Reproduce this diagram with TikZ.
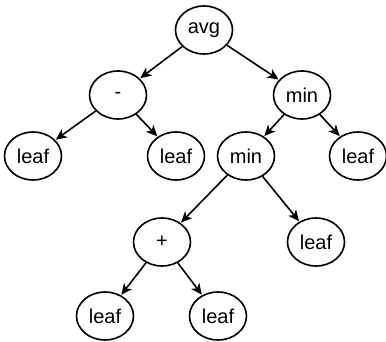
\documentclass[tikz,border=0pt]{standalone}
\usepackage{fontspec}
\setmainfont{Liberation Sans}
\usetikzlibrary{shapes.geometric,arrows.meta}
\begin{document}
\begin{tikzpicture}[x=1pt,y=-1pt,
  tnode/.style={draw,ellipse,line width=1.6pt,minimum width=57pt,minimum height=48pt,inner sep=0pt,font=\fontsize{20}{20}\selectfont},
  edge/.style={line width=1.6pt,-{Stealth[length=11pt,width=10pt,inset=3pt]},shorten >=0.5pt}]
\useasboundingbox (0,0) rectangle (386,342);
\node[tnode] (avg) at (204,30) {avg};
\node[tnode] (minus) at (118,95) {-};
\node[tnode] (min1) at (302,95) {min};
\node[tnode] (l1) at (33,156) {leaf};
\node[tnode] (l2) at (176,156) {leaf};
\node[tnode] (min2) at (246,156) {min};
\node[tnode] (l3) at (358,156) {leaf};
\node[tnode] (plus) at (162,242) {+};
\node[tnode] (l4) at (316,242) {leaf};
\node[tnode] (l5) at (105,316) {leaf};
\node[tnode] (l6) at (218,316) {leaf};
\draw[edge] (avg) -- (minus);
\draw[edge] (avg) -- (min1);
\draw[edge] (minus) -- (l1);
\draw[edge] (minus) -- (l2);
\draw[edge] (min1) -- (min2);
\draw[edge] (min1) -- (l3);
\draw[edge] (min2) -- (plus);
\draw[edge] (min2) -- (l4);
\draw[edge] (plus) -- (l5);
\draw[edge] (plus) -- (l6);
\end{tikzpicture}
\end{document}
